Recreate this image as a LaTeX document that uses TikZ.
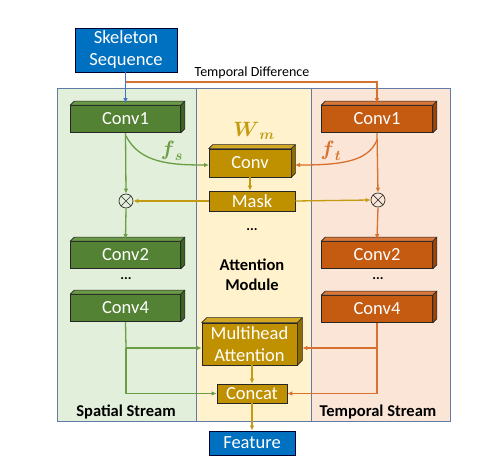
\documentclass[tikz,border=0pt]{standalone}
\usepackage{fontspec}
\setmainfont{Carlito}
\usepackage{amsmath}
\usetikzlibrary{arrows.meta}
\definecolor{gfill}{HTML}{548235}
\definecolor{gtop}{HTML}{6A9A48}
\definecolor{gside}{HTML}{3E6326}
\definecolor{ofill}{HTML}{C55A11}
\definecolor{otop}{HTML}{D9773A}
\definecolor{oside}{HTML}{9A450C}
\definecolor{yfill}{HTML}{BF9000}
\definecolor{ytop}{HTML}{D2A722}
\definecolor{yside}{HTML}{8F6C00}
\definecolor{bfill}{HTML}{0070C0}
\definecolor{gline}{HTML}{6A9D45}
\definecolor{oline}{HTML}{D8702F}
\definecolor{yline}{HTML}{C39A10}
\definecolor{gpanel}{HTML}{E2EFDA}
\definecolor{ypanel}{HTML}{FFF2CC}
\definecolor{opanel}{HTML}{FBE5D6}
\definecolor{frame}{HTML}{5F7BA6}
\definecolor{skarrow}{HTML}{4472C4}
\newcommand\boxfaces[4]{%
  \filldraw[fill=#3, draw=black!85, line width=0.7pt, line join=round]
    (#1.north west) -- ++(#2,-#2) -- ([shift={(#2,-#2)}]#1.north east) -- (#1.north east) -- cycle;
  \filldraw[fill=#4, draw=black!85, line width=0.7pt, line join=round]
    (#1.north east) -- ++(#2,-#2) -- ([shift={(#2,-#2)}]#1.south east) -- (#1.south east) -- cycle;}
\begin{document}
\begin{tikzpicture}[x=1pt,y=-1pt,
  box/.style={draw=black!85, line width=0.7pt, text=white, inner sep=0pt,
    font=\fontsize{18.5}{22}\selectfont, align=center},
  gbox/.style={box, fill=gfill, minimum width=110pt, minimum height=27pt},
  obox/.style={box, fill=ofill, minimum width=111pt, minimum height=27pt},
  ybox/.style={box, fill=yfill},
  bbox/.style={box, fill=bfill, draw=black!80!blue},
  arr/.style={line width=1.3pt, -{Latex[length=5pt,width=4.5pt]}},
  garr/.style={arr, draw=gline},
  oarr/.style={arr, draw=oline},
  yarr/.style={arr, draw=yline},
  lbl/.style={font=\fontsize{14}{16}\selectfont, inner sep=0pt},
  bold/.style={font=\fontsize{16.5}{19.5}\selectfont\bfseries, inner sep=0pt, align=center},
  otimesnode/.style={circle, draw=black!80, line width=0.7pt, minimum size=14pt, inner sep=0pt,
    path picture={\draw[black!80, line width=0.7pt]
      (path picture bounding box.north west) -- (path picture bounding box.south east)
      (path picture bounding box.north east) -- (path picture bounding box.south west);}},
  mathlbl/.style={font=\fontsize{22}{24}\selectfont, inner sep=0pt}
]
\useasboundingbox (0,0) rectangle (504,470);

% panels
\fill[gpanel] (57,89) rectangle (196,422);
\fill[ypanel] (196,89) rectangle (311,422);
\fill[opanel] (311,89) rectangle (450,422);
\draw[frame, line width=1pt] (57,89) rectangle (450,422);
\draw[frame, line width=1pt] (196,89) -- (196,422) (311,89) -- (311,422);

% top
\node[bbox, minimum width=102pt, minimum height=44pt] (skel) at (126,50) {Skeleton\\Sequence};
\node[lbl] (tdiff) at (252,73) {Temporal Difference};

% spatial stream
\node[gbox] (c1s) at (125.5,119) {Conv1};
\node[otimesnode] (xs) at (126,201) {};
\node[gbox] (c2s) at (125.5,255) {Conv2};
\node[lbl] (dots) at (126,279) {\textbf{...}};
\node[gbox] (c4s) at (125.5,308) {Conv4};
\node[bold] (sst) at (126,412) {Spatial Stream};

% temporal stream
\node[obox] (c1t) at (377,119) {Conv1};
\node[otimesnode] (xt) at (378,200) {};
\node[obox] (c2t) at (377,255) {Conv2};
\node[lbl] (dott) at (378,279) {\textbf{...}};
\node[obox] (c4t) at (377,309) {Conv4};
\node[bold] (tst) at (378,412) {Temporal Stream};

% attention module
\node[ybox, minimum width=82pt, minimum height=28pt] (conv) at (250,163) {Conv};
\node[ybox, minimum width=86pt, minimum height=20pt] (mask) at (252,201) {Mask};
\node[lbl] (dotm) at (252,230) {\textbf{...}};
\node[bold] (am) at (252,275) {Attention\\Module};
\node[ybox, minimum width=95pt, minimum height=42pt] (mha) at (249.5,344) {Multihead\\Attention};
\node[ybox, minimum width=70pt, minimum height=19pt] (concat) at (252,393.5) {Concat};
\node[bbox, minimum width=86pt, minimum height=24pt] (feat) at (252,443) {Feature};

% 3d faces
\boxfaces{c1s}{4}{gtop}{gside}
\boxfaces{c2s}{4}{gtop}{gside}
\boxfaces{c4s}{4}{gtop}{gside}
\boxfaces{c1t}{4}{otop}{oside}
\boxfaces{c2t}{4}{otop}{oside}
\boxfaces{c4t}{4}{otop}{oside}
\boxfaces{conv}{4}{ytop}{yside}
\boxfaces{mha}{5}{ytop}{yside}

% labels
\node[mathlbl, text=yline] (wm) at (254,131) {$\boldsymbol{W}_{\boldsymbol{m}}$};
\node[mathlbl, text=gline] (fs) at (172,151) {$\boldsymbol{f}_{\boldsymbol{s}}$};
\node[mathlbl, text=oline] (ft) at (331,151) {$\boldsymbol{f}_{\boldsymbol{t}}$};

% coordinates
\coordinate (tdstart) at (126,82);
\coordinate (sbr1) at (126,136);
\coordinate (tbr1) at (377,140);
\coordinate (sbr2) at (126,348);
\coordinate (tbr2) at (377,348);
\coordinate (convin) at (209,165);
\coordinate (convinr) at (295,165);

% connectors
\draw[arr, draw=skarrow] (skel.south -| c1s.north) -- ([yshift=2pt]c1s.north);
\draw[oarr] (tdstart) -| ([yshift=2pt]c1t.north);

\draw[garr] (c1s.south) -- (xs.north);
\draw[garr] (xs.south) -- ([yshift=2pt]c2s.north);
\draw[garr] (sbr1) .. controls (140,163) and (170,165) .. (convin);
\draw[oarr] (tbr1) .. controls (368,162) and (340,165) .. (convinr);
\draw[oarr] (c1t.south) -- (xt.north);
\draw[oarr] (xt.south) -- ([yshift=2pt]c2t.north);

\draw[yarr] (conv.south) -- (mask.north -| conv.south);
\draw[yarr] (mask.west) -- (xs.east);
\draw[yarr] (mask.east) -- (xt.west);

\draw[line width=1.3pt, gline] (c4s.south) -- (sbr2);
\draw[garr] (sbr2) -- (mha.west |- sbr2);
\draw[garr] (sbr2) |- (concat.west);
\draw[line width=1.3pt, oline] (c4t.south) -- (tbr2);
\draw[oarr] (tbr2) -- ([xshift=5pt]mha.east |- tbr2);
\draw[oarr] (tbr2) |- (concat.east);

\draw[yarr] (mha.south -| concat.north) -- (concat.north);
\draw[yarr] (concat.south) -- (feat.north);
\end{tikzpicture}
\end{document}
